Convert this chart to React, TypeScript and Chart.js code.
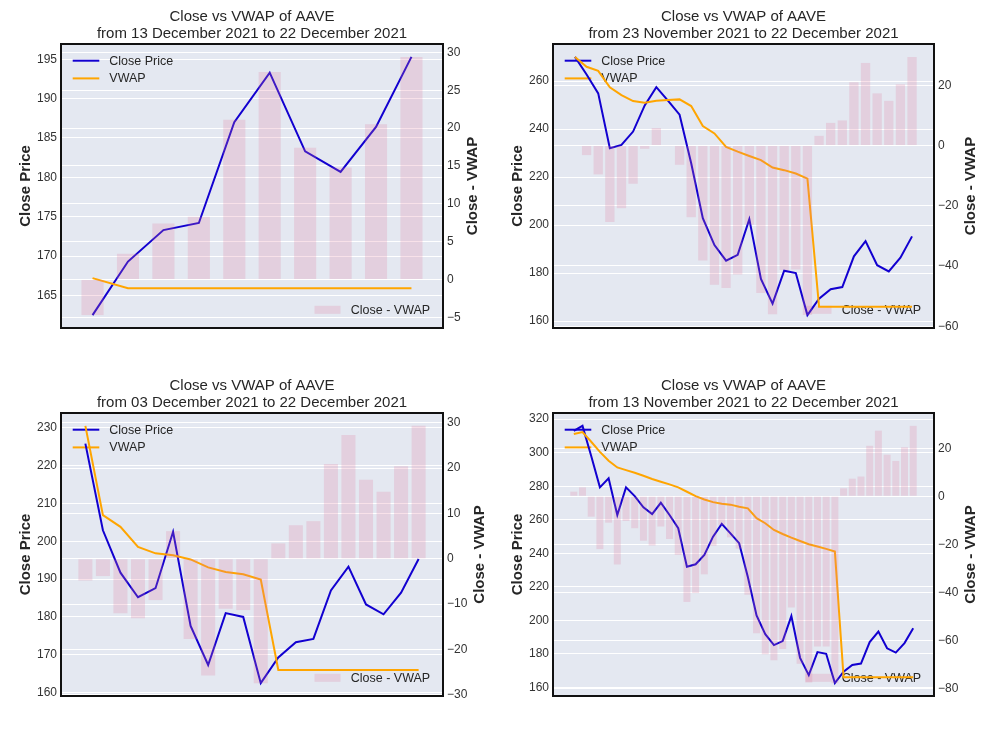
import React, { useEffect, useRef } from "react";
import { Chart, registerables } from "chart.js";

Chart.register(...registerables);

// ---------------- data ----------------
// Daily close prices of AAVE, 13 Nov 2021 .. 22 Dec 2021 (40 days)
const closeAll = [
  313.0, 316.0, 298.0, 279.3, 284.7, 262.8, 279.3, 274.1, 267.4, 263.4,
  270.1, 262.8, 254.9, 232.0, 233.4, 239.0, 249.9, 257.5, 251.9, 246.0,
  225.8, 202.9, 191.7, 185.2, 187.6, 202.5, 177.6, 167.3, 181.0, 180.0,
  162.5, 169.3, 173.3, 174.2, 187.0, 193.3, 183.3, 180.7, 186.4, 195.3,
];

const close10 = closeAll.slice(30);
const close20 = closeAll.slice(20);
const close30 = closeAll.slice(10);
const close40 = closeAll.slice(0);

const vwap10 = [167.2, 165.9, 165.9, 165.9, 165.9, 165.9, 165.9, 165.9, 165.9, 165.9];
const diff10 = [-4.7, 3.4, 7.4, 8.3, 21.1, 27.4, 17.4, 14.8, 20.5, 29.4];

const vwap20 = [
  230.5, 206.9, 203.8, 198.5, 196.8, 196.3, 195.2, 193.1, 191.9, 191.3,
  189.9, 166.0, 166.0, 166.0, 166.0, 166.0, 166.0, 166.0, 166.0, 166.0,
];
const diff20 = [
  -4.8, -3.8, -12.0, -13.1, -9.1, 6.1, -17.7, -25.7, -11.0, -11.3,
  -27.4, 3.4, 7.4, 8.3, 20.9, 27.3, 17.4, 14.8, 20.4, 29.3,
];

const vwap30 = [
  270.1, 266.0, 264.3, 257.4, 254.2, 251.7, 251.0, 251.8, 252.1, 252.4,
  249.6, 241.3, 238.2, 232.6, 230.6, 228.8, 227.1, 224.0, 222.9, 221.5,
  219.4, 166.0, 166.0, 166.0, 166.0, 166.0, 166.0, 166.0, 166.0, 166.0,
];
const diff30 = [
  0.0, -3.2, -9.6, -25.4, -20.8, -12.7, -1.1, 5.8, -0.2, -6.4,
  -23.8, -38.2, -46.2, -47.3, -42.8, -26.3, -49.0, -56.0, -41.3, -41.2,
  -56.3, 3.2, 7.5, 8.3, 21.0, 27.4, 17.3, 14.8, 20.3, 29.4,
];

const vwap40 = [
  311.1, 312.3, 306.5, 300.5, 295.2, 291.2, 289.6, 288.0, 286.2, 284.3,
  282.7, 281.1, 279.3, 276.7, 274.1, 272.1, 270.5, 269.5, 269.0, 267.8,
  266.8, 260.9, 257.9, 253.9, 251.5, 249.3, 247.3, 245.4, 244.0, 242.6,
  241.0, 166.0, 166.0, 166.0, 166.0, 166.0, 166.0, 166.0, 166.0, 166.0,
];
const diff40 = [
  1.9, 3.7, -8.5, -22.0, -11.0, -28.4, -10.3, -13.3, -18.5, -20.5,
  -12.6, -17.8, -24.4, -44.0, -40.3, -32.5, -20.6, -12.0, -17.1, -21.8,
  -41.0, -57.0, -65.8, -68.3, -63.6, -46.3, -69.7, -77.5, -62.5, -62.6,
  -77.8, 3.3, 7.3, 8.2, 21.0, 27.3, 17.3, 14.7, 20.4, 29.3,
];

const leftTicks10 = [165, 170, 175, 180, 185, 190, 195];
const rightTicks10 = [-5, 0, 5, 10, 15, 20, 25, 30];
const leftTicks30 = [160, 180, 200, 220, 240, 260];
const rightTicks30 = [-60, -40, -20, 0, 20];
const leftTicks20 = [160, 170, 180, 190, 200, 210, 220, 230];
const rightTicks20 = [-30, -20, -10, 0, 10, 20, 30];
const leftTicks40 = [160, 180, 200, 220, 240, 260, 280, 300, 320];
const rightTicks40 = [-80, -60, -40, -20, 0, 20];

const titleLine1 = "Close vs VWAP of AAVE";
const subtitle10 = "from 13 December 2021 to 22 December 2021";
const subtitle30 = "from 23 November 2021 to 22 December 2021";
const subtitle20 = "from 03 December 2021 to 22 December 2021";
const subtitle40 = "from 13 November 2021 to 22 December 2021";

const closeLabel = "Close Price";
const vwapLabel = "VWAP";
const diffLabel = "Close - VWAP";
const leftAxisTitle = "Close Price";
const rightAxisTitle = "Close - VWAP";

// ---------------- styles ----------------
const FONT = '"Liberation Sans", Arial, Helvetica, sans-serif';
const BG = "#E4E8F1";
const BLUE = "#1200d0";
const ORANGE = "#FFA500";
const BAR = "rgba(225,120,155,0.22)";
const TEXT = "#262626";

type PanelProps = {
  close: number[];
  vwap: number[];
  diff: number[];
  leftTicks: number[];
  rightTicks: number[];
  subtitle: string;
  left: number;
  top: number;
  width: number;
  height: number;
  area: { l: number; t: number; r: number; b: number };
  rightTitleOffset: number;
};

function minus(v: number) {
  return String(v).replace("-", "\u2212");
}

function PanelChart(p: PanelProps) {
  const ref = useRef<HTMLCanvasElement | null>(null);

  useEffect(() => {
    const canvas = ref.current;
    if (!canvas) return;
    const n = p.close.length;
    const xPad = 0.05 * (n - 1 + 0.8);
    const xMin = -0.4 - xPad;
    const xMax = n - 1 + 0.4 + xPad;

    const lo = Math.min(...p.close, ...p.vwap);
    const hi = Math.max(...p.close, ...p.vwap);
    const yPad = 0.05 * (hi - lo);
    const dLo = Math.min(0, ...p.diff);
    const dHi = Math.max(0, ...p.diff);
    const dPad = 0.05 * (dHi - dLo);

    const leftW = p.area.l;
    const rightW = p.width - p.area.r;

    const decor = {
      id: "decor",
      beforeDraw(chart: any) {
        const { ctx, chartArea: a } = chart;
        ctx.save();
        ctx.fillStyle = BG;
        ctx.fillRect(a.left, a.top, a.right - a.left, a.bottom - a.top);
        ctx.restore();
      },
      beforeDatasetsDraw(chart: any) {
        const { ctx, chartArea: a } = chart;
        ctx.save();
        ctx.font = `12.5px ${FONT}`;
        ctx.textBaseline = "middle";
        ctx.textAlign = "left";
        // upper-left legend
        const rows = [
          { label: closeLabel, color: BLUE, y: a.top + 16.7 },
          { label: vwapLabel, color: ORANGE, y: a.top + 34.4 },
        ];
        rows.forEach((r) => {
          ctx.strokeStyle = r.color;
          ctx.lineWidth = 2;
          ctx.beginPath();
          ctx.moveTo(a.left + 11.7, r.y);
          ctx.lineTo(a.left + 38.3, r.y);
          ctx.stroke();
          ctx.fillStyle = TEXT;
          ctx.fillText(r.label, a.left + 48.3, r.y + 0.5);
        });
        // lower-right legend
        const ty = a.bottom - 18.2;
        const tw = ctx.measureText(diffLabel).width;
        const tx = a.right - 12.8 - tw;
        ctx.fillStyle = TEXT;
        ctx.fillText(diffLabel, tx, ty + 0.5);
        ctx.fillStyle = BAR;
        ctx.fillRect(tx - 10.3 - 26, ty - 4, 26, 8);
        ctx.restore();
      },
      afterDraw(chart: any) {
        const { ctx, chartArea: a } = chart;
        ctx.save();
        ctx.strokeStyle = "#111";
        ctx.lineWidth = 2;
        ctx.strokeRect(a.left, a.top, a.right - a.left, a.bottom - a.top);

        ctx.fillStyle = TEXT;
        ctx.font = `15px ${FONT}`;
        ctx.textAlign = "center";
        ctx.textBaseline = "alphabetic";
        const cx = (a.left + a.right) / 2;
        ctx.fillText(titleLine1, cx, a.top - 23.5);
        ctx.fillText(p.subtitle, cx, a.top - 6.3);

        ctx.font = `bold 15px ${FONT}`;
        const cy = (a.top + a.bottom) / 2;
        ctx.save();
        ctx.translate(a.left - 31, cy);
        ctx.rotate(-Math.PI / 2);
        ctx.fillText(leftAxisTitle, 0, 0);
        ctx.restore();
        ctx.save();
        ctx.translate(a.right + p.rightTitleOffset, cy);
        ctx.rotate(-Math.PI / 2);
        ctx.fillText(rightAxisTitle, 0, 0);
        ctx.restore();
        ctx.restore();
      },
    };

    const chart = new Chart(canvas, {
      type: "line",
      data: {
        datasets: [
          {
            type: "line",
            label: closeLabel,
            data: p.close.map((v, i) => ({ x: i, y: v })),
            borderColor: BLUE,
            backgroundColor: BLUE,
            borderWidth: 2,
            pointRadius: 0,
            tension: 0,
            yAxisID: "y",
            order: 2,
          },
          {
            type: "line",
            label: vwapLabel,
            data: p.vwap.map((v, i) => ({ x: i, y: v })),
            borderColor: ORANGE,
            backgroundColor: ORANGE,
            borderWidth: 2,
            pointRadius: 0,
            tension: 0,
            yAxisID: "y",
            order: 1,
          },
          {
            type: "bar",
            label: diffLabel,
            data: p.diff.map((v, i) => ({ x: i, y: v })),
            backgroundColor: BAR,
            borderWidth: 0,
            barPercentage: 0.8,
            categoryPercentage: 1,
            yAxisID: "y2",
            order: 0,
          },
        ],
      } as any,
      options: {
        animation: false,
        responsive: false,
        maintainAspectRatio: false,
        events: [],
        layout: {
          padding: {
            left: 0,
            right: 0,
            top: p.area.t,
            bottom: p.height - p.area.b,
          },
        },
        plugins: {
          legend: { display: false },
          tooltip: { enabled: false },
          title: { display: false },
        },
        scales: {
          x: {
            type: "linear",
            min: xMin,
            max: xMax,
            bounds: "data",
            offset: false,
            display: false,
          },
          y: {
            type: "linear",
            position: "left",
            min: lo - yPad,
            max: hi + yPad,
            bounds: "data",
            afterBuildTicks: (s: any) => {
              s.ticks = p.leftTicks.map((v) => ({ value: v }));
            },
            afterFit: (s: any) => {
              s.width = leftW;
            },
            grid: { color: "#ffffff", lineWidth: 1, drawTicks: false },
            border: { display: false },
            ticks: {
              padding: 4,
              color: "#333333",
              font: { family: FONT, size: 12 },
              autoSkip: false,
              callback: (v: any) => minus(Number(v)),
            },
          },
          y2: {
            type: "linear",
            position: "right",
            min: dLo - dPad,
            max: dHi + dPad,
            bounds: "data",
            afterBuildTicks: (s: any) => {
              s.ticks = p.rightTicks.map((v) => ({ value: v }));
            },
            afterFit: (s: any) => {
              s.width = rightW;
            },
            grid: { color: "#ffffff", lineWidth: 1, drawTicks: false },
            border: { display: false },
            ticks: {
              padding: 4,
              color: "#333333",
              font: { family: FONT, size: 12 },
              autoSkip: false,
              callback: (v: any) => minus(Number(v)),
            },
          },
        },
      } as any,
      plugins: [decor],
    });

    return () => {
      chart.destroy();
    };
  }, []);

  return (
    <canvas
      ref={ref}
      width={p.width}
      height={p.height}
      style={{
        position: "absolute",
        left: p.left,
        top: p.top,
        width: p.width,
        height: p.height,
      }}
    />
  );
}

export default function App() {
  return (
    <div
      style={{
        position: "absolute",
        left: 0,
        top: 0,
        width: 983,
        height: 737,
        background: "#ffffff",
        overflow: "hidden",
      }}
    >
      <PanelChart
        close={close10}
        vwap={vwap10}
        diff={diff10}
        leftTicks={leftTicks10}
        rightTicks={rightTicks10}
        subtitle={subtitle10}
        left={0}
        top={0}
        width={491}
        height={368}
        area={{ l: 61, t: 44, r: 443, b: 328 }}
        rightTitleOffset={33.7}
      />
      <PanelChart
        close={close30}
        vwap={vwap30}
        diff={diff30}
        leftTicks={leftTicks30}
        rightTicks={rightTicks30}
        subtitle={subtitle30}
        left={491}
        top={0}
        width={492}
        height={368}
        area={{ l: 62, t: 44, r: 443, b: 328 }}
        rightTitleOffset={41}
      />
      <PanelChart
        close={close20}
        vwap={vwap20}
        diff={diff20}
        leftTicks={leftTicks20}
        rightTicks={rightTicks20}
        subtitle={subtitle20}
        left={0}
        top={368}
        width={491}
        height={369}
        area={{ l: 61, t: 45, r: 443, b: 328 }}
        rightTitleOffset={40.6}
      />
      <PanelChart
        close={close40}
        vwap={vwap40}
        diff={diff40}
        leftTicks={leftTicks40}
        rightTicks={rightTicks40}
        subtitle={subtitle40}
        left={491}
        top={368}
        width={492}
        height={369}
        area={{ l: 62, t: 45, r: 443, b: 328 }}
        rightTitleOffset={41}
      />
    </div>
  );
}
